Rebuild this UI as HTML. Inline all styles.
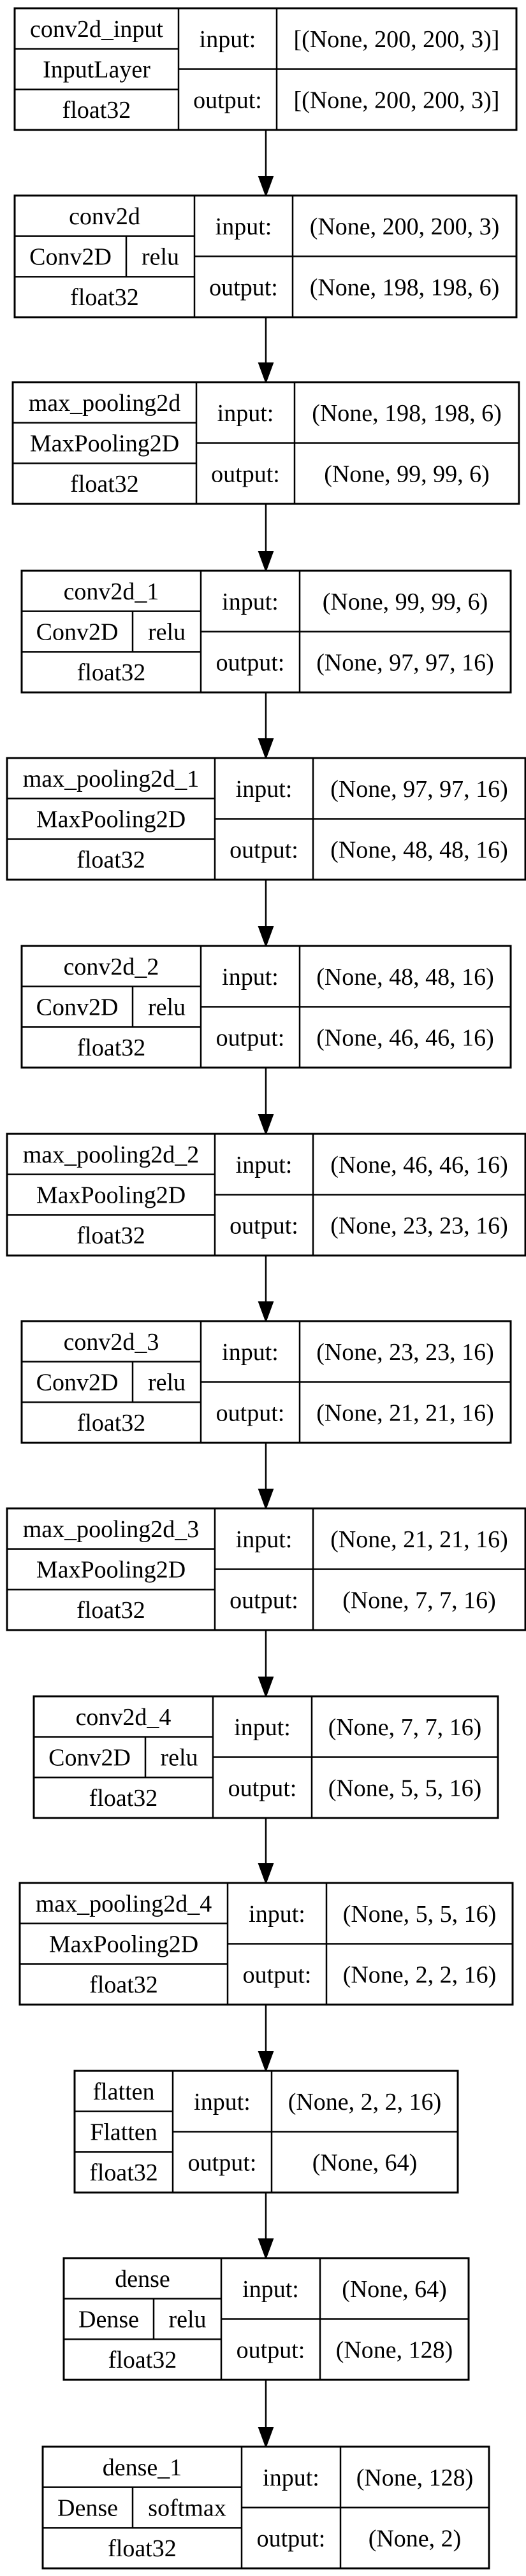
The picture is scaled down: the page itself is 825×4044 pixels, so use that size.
<!DOCTYPE html>
<html><head><meta charset="utf-8">
<style>
html,body{margin:0;padding:0;background:#fff;}
svg{display:block;}
text{font-family:"Liberation Serif",serif;font-size:38px;fill:#000;}
</style></head>
<body>
<svg id="diagram" width="825" height="4044" viewBox="0 0 825 4044" xmlns="http://www.w3.org/2000/svg">
<rect x="0" y="0" width="825" height="4044" fill="#fff"/>
</svg>
<script>
const layerNames = ["conv2d_input","conv2d","max_pooling2d","conv2d_1","max_pooling2d_1","conv2d_2","max_pooling2d_2","conv2d_3","max_pooling2d_3","conv2d_4","max_pooling2d_4","flatten","dense","dense_1"];
const layerTypes = ["InputLayer","Conv2D","MaxPooling2D","Conv2D","MaxPooling2D","Conv2D","MaxPooling2D","Conv2D","MaxPooling2D","Conv2D","MaxPooling2D","Flatten","Dense","Dense"];
const activations = ["","relu","","relu","","relu","","relu","","relu","","","relu","softmax"];
const inputShapes = ["[(None, 200, 200, 3)]","(None, 200, 200, 3)","(None, 198, 198, 6)","(None, 99, 99, 6)","(None, 97, 97, 16)","(None, 48, 48, 16)","(None, 46, 46, 16)","(None, 23, 23, 16)","(None, 21, 21, 16)","(None, 7, 7, 16)","(None, 5, 5, 16)","(None, 2, 2, 16)","(None, 64)","(None, 128)"];
const outputShapes = ["[(None, 200, 200, 3)]","(None, 198, 198, 6)","(None, 99, 99, 6)","(None, 97, 97, 16)","(None, 48, 48, 16)","(None, 46, 46, 16)","(None, 23, 23, 16)","(None, 21, 21, 16)","(None, 7, 7, 16)","(None, 5, 5, 16)","(None, 2, 2, 16)","(None, 64)","(None, 128)","(None, 2)"];
const dtypes = ["float32","float32","float32","float32","float32","float32","float32","float32","float32","float32","float32","float32","float32","float32"];

// layout (not data): [top, left, right, col1, col2, activationDivider]
const layout = [
 [13,23,810,280,434,0],
 [307,23,810,305,459,198],
 [600,20,814,308,462,0],
 [896,34,801,315,470,208],
 [1190,11,824,337,491,0],
 [1485,34,801,315,470,208],
 [1780,11,824,337,491,0],
 [2074,34,801,315,470,208],
 [2368,11,824,337,491,0],
 [2663,53,781,334,489,228],
 [2956,31,804,357,512,0],
 [3251,117,718,271,426,0],
 [3545,100,735,347,502,241],
 [3841,67,767,379,534,208]
];
const BOX_H = 191;
const ARROW_X = 417;
const svg = document.getElementById('diagram');
const NS = 'http://www.w3.org/2000/svg';
function mk(tag, attrs, parent){
  const e = document.createElementNS(NS, tag);
  for (const k in attrs) e.setAttribute(k, attrs[k]);
  (parent||svg).appendChild(e);
  return e;
}
function line(g,x1,y1,x2,y2,w){ mk('line',{x1,y1,x2,y2,stroke:'#000','stroke-width':w||2.5},g); }
function txt(g,x,y,s,name){
  const t = mk('text',{x:x,y:y+13,'text-anchor':'middle'},g);
  t.textContent = s;
  
  
}
for (let i=0;i<layerNames.length;i++){
  const [top,l,r,c1,c2,ad] = layout[i];
  const b = top+BOX_H;
  const g = mk('g',{});
  
  
  mk('rect',{x:l,y:top,width:r-l,height:BOX_H,fill:'#fff',stroke:'#000','stroke-width':3},g);
  const r1 = top+BOX_H/3, r2 = top+2*BOX_H/3, mid = top+BOX_H/2;
  line(g,c1,top,c1,b); line(g,c2,top,c2,b);
  line(g,l,r1,c1,r1); line(g,l,r2,c1,r2); line(g,c1,mid,r,mid);
  txt(g,(l+c1)/2,top+BOX_H/6,layerNames[i],'layer-name');
  if (activations[i]){
    line(g,ad,r1,ad,r2);
    txt(g,(l+ad)/2,top+BOX_H/2,layerTypes[i],'layer-type');
    txt(g,(ad+c1)/2,top+BOX_H/2,activations[i],'activation');
  } else {
    txt(g,(l+c1)/2,top+BOX_H/2,layerTypes[i],'layer-type');
  }
  txt(g,(l+c1)/2,top+5*BOX_H/6,dtypes[i],'dtype');
  txt(g,(c1+c2)/2,top+BOX_H/4,'input:','input-label');
  txt(g,(c1+c2)/2,top+3*BOX_H/4,'output:','output-label');
  txt(g,(c2+r)/2,top+BOX_H/4,inputShapes[i],'input-shape');
  txt(g,(c2+r)/2,top+3*BOX_H/4,outputShapes[i],'output-shape');
  if (i<layerNames.length-1){
    const nt = layout[i+1][0];
    const a = mk('g',{});
    
    
    line(a,ARROW_X,b+1,ARROW_X,nt-28,2.5);
    mk('polygon',{points:`${ARROW_X-11},${nt-30} ${ARROW_X+11},${nt-30} ${ARROW_X},${nt}`,fill:'#000',stroke:'#000','stroke-width':2},a);
  }
}
</script>
</body></html>
